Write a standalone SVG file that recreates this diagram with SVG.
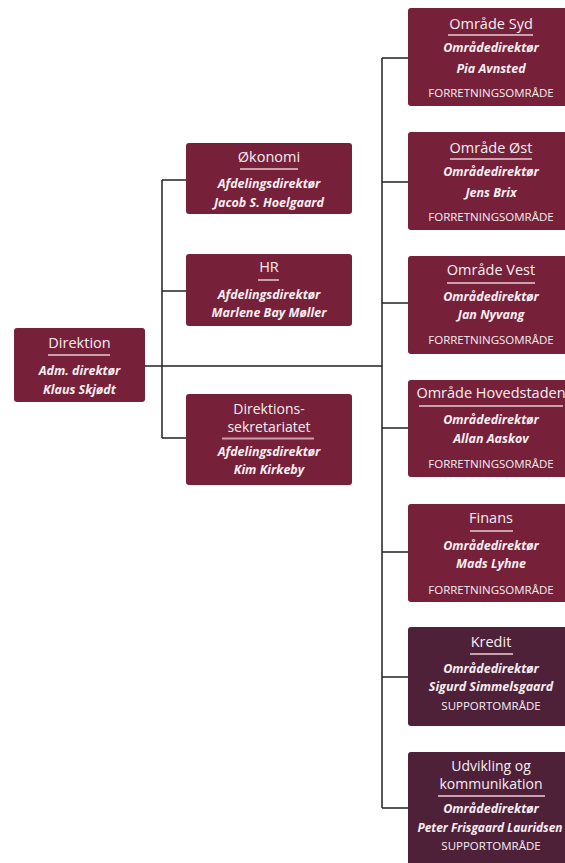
<svg xmlns="http://www.w3.org/2000/svg" width="565" height="863" viewBox="0 0 565 863">
<style>
.box{fill:#77203a}
.sup{fill:#4f2139}
.t{font-family:"Open Sans","Liberation Sans",sans-serif;fill:#f6eef1;text-anchor:middle}
.ti{font-size:14.5px}
.ti2{font-size:14px}
.sub{font-size:12.5px;font-weight:bold;font-style:italic}
.cat{font-size:11.5px}
.div{stroke:#c9a0ac;stroke-width:2}
.con{stroke:#222;stroke-width:1.5;fill:none}
</style>
<rect width="565" height="863" fill="#ffffff"/>
<g id="connectors">
<path class="con" d="M145 366H382M162 180V438M162 180H186M162 291H186M162 438H186M382 58V808M382 58H408M382 182H408M382 303H408M382 428H408M382 552H408M382 677H408M382 808H408"/>
</g>
<g id="direktion">
<rect class="box" x="14" y="328" width="131" height="74" rx="3"/>
<text class="t ti" x="79.5" y="348">Direktion</text>
<line class="div" x1="48" y1="355" x2="110" y2="355"/>
<text class="t sub" x="79.5" y="375">Adm. direktør</text>
<text class="t sub" x="79.5" y="394">Klaus Skjødt</text>
</g>
<g id="oekonomi">
<rect class="box" x="186" y="143" width="166" height="71" rx="3"/>
<text class="t ti" x="269" y="162">Økonomi</text>
<line class="div" x1="240" y1="169" x2="298" y2="169"/>
<text class="t sub" x="269" y="188">Afdelingsdirektør</text>
<text class="t sub" x="269" y="207">Jacob S. Hoelgaard</text>
</g>
<g id="hr">
<rect class="box" x="186" y="254" width="166" height="72" rx="3"/>
<text class="t ti" x="269" y="272">HR</text>
<line class="div" x1="258" y1="280" x2="279" y2="280"/>
<text class="t sub" x="269" y="299">Afdelingsdirektør</text>
<text class="t sub" x="269" y="317">Marlene Bay Møller</text>
</g>
<g id="direktionssekretariatet">
<rect class="box" x="186" y="394" width="166" height="91" rx="3"/>
<text class="t ti2" x="269" y="414">Direktions-</text>
<text class="t ti2" x="269" y="432">sekretariatet</text>
<line class="div" x1="222" y1="438.5" x2="314" y2="438.5"/>
<text class="t sub" x="269" y="456">Afdelingsdirektør</text>
<text class="t sub" x="269" y="474">Kim Kirkeby</text>
</g>
<g id="omraade-syd">
<rect class="box" x="408" y="8" width="166" height="98" rx="3"/>
<text class="t ti" x="491" y="29">Område Syd</text>
<line class="div" x1="448" y1="35" x2="533" y2="35"/>
<text class="t sub" x="491" y="52">Områdedirektør</text>
<text class="t sub" x="491" y="73">Pia Avnsted</text>
<text class="t cat" x="491" y="97">FORRETNINGSOMRÅDE</text>
</g>
<g id="omraade-oest">
<rect class="box" x="408" y="132" width="166" height="98" rx="3"/>
<text class="t ti" x="491" y="153">Område Øst</text>
<line class="div" x1="450" y1="159" x2="532" y2="159"/>
<text class="t sub" x="491" y="176">Områdedirektør</text>
<text class="t sub" x="491" y="197">Jens Brix</text>
<text class="t cat" x="491" y="221">FORRETNINGSOMRÅDE</text>
</g>
<g id="omraade-vest">
<rect class="box" x="408" y="256" width="166" height="98" rx="3"/>
<text class="t ti" x="491" y="275">Område Vest</text>
<line class="div" x1="447" y1="283" x2="535" y2="283"/>
<text class="t sub" x="491" y="301">Områdedirektør</text>
<text class="t sub" x="491" y="319">Jan Nyvang</text>
<text class="t cat" x="491" y="344">FORRETNINGSOMRÅDE</text>
</g>
<g id="omraade-hovedstaden">
<rect class="box" x="408" y="380" width="166" height="97" rx="3"/>
<text class="t ti" x="491" y="398">Område Hovedstaden</text>
<line class="div" x1="419" y1="406" x2="563" y2="406"/>
<text class="t sub" x="491" y="424">Områdedirektør</text>
<text class="t sub" x="491" y="443">Allan Aaskov</text>
<text class="t cat" x="491" y="468">FORRETNINGSOMRÅDE</text>
</g>
<g id="finans">
<rect class="box" x="408" y="504" width="166" height="98" rx="3"/>
<text class="t ti" x="491" y="523">Finans</text>
<line class="div" x1="470" y1="531" x2="513" y2="531"/>
<text class="t sub" x="491" y="550">Områdedirektør</text>
<text class="t sub" x="491" y="568">Mads Lyhne</text>
<text class="t cat" x="491" y="594">FORRETNINGSOMRÅDE</text>
</g>
<g id="kredit">
<rect class="sup" x="408" y="627" width="166" height="99" rx="3"/>
<text class="t ti" x="491" y="647">Kredit</text>
<line class="div" x1="470" y1="654" x2="513" y2="654"/>
<text class="t sub" x="491" y="673">Områdedirektør</text>
<text class="t sub" x="491" y="691">Sigurd Simmelsgaard</text>
<text class="t cat" x="491" y="710">SUPPORTOMRÅDE</text>
</g>
<g id="udvikling-og-kommunikation">
<rect class="sup" x="408" y="752" width="166" height="116" rx="3"/>
<text class="t ti2" x="491" y="771">Udvikling og</text>
<text class="t ti2" x="491" y="789">kommunikation</text>
<line class="div" x1="438" y1="796" x2="545" y2="796"/>
<text class="t sub" x="491" y="813">Områdedirektør</text>
<text class="t sub" x="490" y="832" style="font-size:11.9px">Peter Frisgaard Lauridsen</text>
<text class="t cat" x="491" y="850">SUPPORTOMRÅDE</text>
</g>
</svg>
